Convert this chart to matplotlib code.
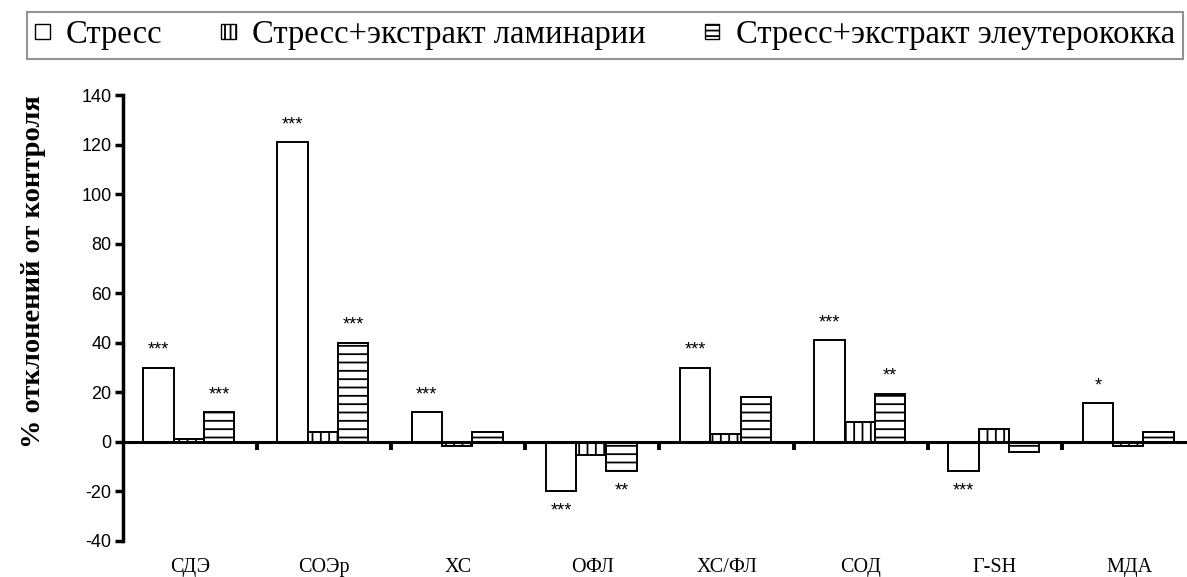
import matplotlib
matplotlib.use("Agg")
import matplotlib.pyplot as plt
from matplotlib.patches import Patch
from matplotlib.transforms import blended_transform_factory
import numpy as np

categories = ["СДЭ", "СОЭр", "ХС", "ОФЛ", "ХС/ФЛ", "СОД", "Г-SH", "МДА"]
series_names = ["Стресс", "Стресс+экстракт ламинарии", "Стресс+экстракт элеутерококка"]
stress = [30, 121, 12, -20, 30, 41, -12, 15.5]
laminaria = [1, 4, -1.5, -5.5, 3, 8, 5.3, -1.5]
eleuthero = [12, 40, 4, -12, 18, 19.5, -4, 4]
sig_stress = ["***", "***", "***", "***", "***", "***", "***", "*"]
sig_laminaria = ["", "", "", "", "", "", "", ""]
sig_eleuthero = ["***", "***", "", "**", "", "**", "", ""]
yticks = [-40, -20, 0, 20, 40, 60, 80, 100, 120, 140]

W, H = 1187, 577
fig = plt.figure(figsize=(W / 100, H / 100), dpi=100)
plt.rcParams['hatch.linewidth'] = 1.3

left_px, right_px = 122.7, 1187
top_px, bot_px = 95.3, 540.8
ax = fig.add_axes([left_px / W, 1 - bot_px / H, (right_px - left_px) / W, (bot_px - top_px) / H])

n = len(categories)
x = np.arange(n)
bw = 0.226
series = [stress, laminaria, eleuthero]
hatches = [None, "||", "--"]
sigs = [sig_stress, sig_laminaria, sig_eleuthero]
offsets = [-bw, 0, bw]
for vals, hatch, off, sg in zip(series, hatches, offsets, sigs):
    bars = ax.bar(x + off - 0.008, vals, width=bw, facecolor="white", edgecolor="black",
                  linewidth=1.4, hatch=hatch, zorder=2)
    for b, v, s in zip(bars, vals, sg):
        if not s:
            continue
        cx = b.get_x() + b.get_width() / 2
        dy = 13 if v >= 0 else -24
        ax.annotate(s, (cx, v), xytext=(0, dy), textcoords="offset pixels",
                    ha="center", va="baseline", fontsize=13,
                    family="Liberation Sans")

ax.set_xlim(-0.5, (right_px - left_px) / 134.2 - 0.5)
ax.set_ylim(-40, 140)
ax.set_yticks(yticks)
ax.set_yticklabels([str(t) for t in yticks], family="Liberation Sans", fontsize=13)
ax.tick_params(axis="y", direction="out", length=6, width=2.5, pad=2)

for s in ["top", "right"]:
    ax.spines[s].set_visible(False)
ax.spines["left"].set_linewidth(2.5)
ax.spines["bottom"].set_position(("data", 0))
ax.spines["bottom"].set_linewidth(2.2)
ax.spines["bottom"].set_zorder(3)
ax.set_xticks(np.arange(n - 1) + 0.5)
ax.set_xticklabels([])
ax.tick_params(axis="x", direction="out", length=6, width=2.8)

trans = blended_transform_factory(ax.transData, ax.transAxes)
for xi, c in zip(x, categories):
    ax.text(xi, -0.06, c, transform=trans, ha="center", va="center",
            family="Liberation Serif", fontsize=14.5)

fig.text(34 / W, 1 - 272 / H, "% отклонений от контроля", rotation=90,
         ha="center", va="center", family="Liberation Serif", fontweight="bold", fontsize=20.5)

leg_hatches = [None, "|||", "---"]
handles = [Patch(facecolor="white", edgecolor="black", hatch=h, linewidth=1.0) for h in leg_hatches]
leg = fig.legend(handles, series_names, loc="upper left", ncol=3,
                 bbox_to_anchor=(26.7 / W, 1 - 11.7 / H),
                 borderaxespad=0, fancybox=False, frameon=True,
                 prop={"family": "Liberation Serif", "size": 23.5},
                 handlelength=0.45, handleheight=0.32, handletextpad=0.5,
                 borderpad=0.25, columnspacing=1.8)
leg.get_frame().set_edgecolor("#777777")
leg.get_frame().set_linewidth(1.5)

fig.savefig("out.png", dpi=100)
